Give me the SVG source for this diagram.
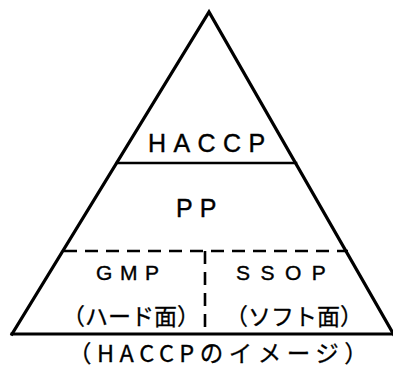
<svg xmlns="http://www.w3.org/2000/svg" width="393" height="369" viewBox="0 0 393 369">
<style>
.ln{stroke:#000;fill:none;stroke-linecap:square}
.ds{stroke:#000;fill:none;stroke-width:2.6;stroke-dasharray:13 8}
.t{font-family:"Liberation Sans","Noto Sans CJK JP",sans-serif;fill:#000;stroke:#000;stroke-width:0.4}
.j{font-family:"Noto Sans CJK JP","Liberation Sans",sans-serif;fill:#000;stroke:#000;stroke-width:0.3}
</style>
<rect width="393" height="369" fill="#fff"/>
<g id="connectors">
<path class="ln" stroke-width="3.2" d="M12,334 L209,12 L398,342"/>
<path class="ln" stroke-width="3" d="M12,334 L393,334"/>
<path class="ln" stroke-width="2.6" d="M117,163 L296,163"/>
<path class="ds" d="M64,251 L348,251"/>
<path class="ds" d="M205,251 L205,334"/>
</g>
<g id="haccp"><text class="t" x="148" y="152" font-size="25" letter-spacing="7.4">HACCP</text></g>
<g id="pp"><text class="t" x="176" y="217" font-size="25" letter-spacing="7">PP</text></g>
<g id="gmp">
<text class="t" x="96" y="280" font-size="21" letter-spacing="7.6">GMP</text>
<text class="j" x="62" y="325" font-size="23" letter-spacing="0">（ハード面）</text>
</g>
<g id="ssop">
<text class="t" x="236" y="280" font-size="21" letter-spacing="10.5">SSOP</text>
<text class="j" x="225" y="325" font-size="23" letter-spacing="0">（ソフト面）</text>
</g>
<g id="caption"><text class="j" x="68" y="362" font-size="23.5" letter-spacing="5.5">（HACCPのイメージ）</text></g>
</svg>
